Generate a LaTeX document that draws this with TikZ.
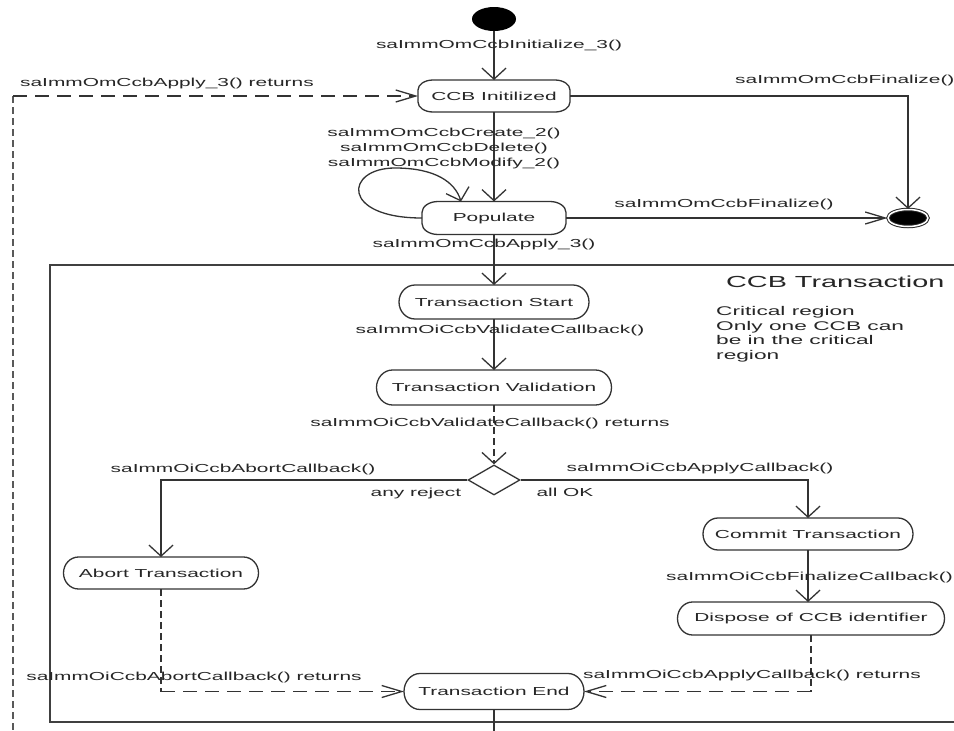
\documentclass[tikz,border=0pt]{standalone}
\usepackage{fontspec}
\setmainfont{Liberation Sans}[FakeStretch=1.8]
\usetikzlibrary{arrows.meta,shapes.geometric}

\newcommand\stlabelfont{\fontsize{11.6}{15}\selectfont}
\newcommand\ststatefont{\fontsize{11.6}{14}\selectfont}
\newcommand\stnotefont{\fontsize{12.6}{14.5}\selectfont}
\newcommand\sttitlefont{\fontsize{16}{19}\selectfont}

% outline of a state: rounded box with elliptical corners (x radius #2, y radius #3)
\newcommand\stateoutline[3]{%
  \draw[stateline] ([xshift=#2]#1.north west) -- ([xshift=-#2]#1.north east)
    arc[start angle=90,end angle=0,x radius=#2,y radius=#3]
    -- ([yshift=#3]#1.south east)
    arc[start angle=0,end angle=-90,x radius=#2,y radius=#3]
    -- ([xshift=#2]#1.south west)
    arc[start angle=270,end angle=180,x radius=#2,y radius=#3]
    -- ([yshift=-#3]#1.north west)
    arc[start angle=180,end angle=90,x radius=#2,y radius=#3] -- cycle;}

\tikzset{
  conn/.style={line width=1.3pt, draw=black!80},
  varr/.style={-{Straight Barb[length=11pt,width=24pt]}},
  harr/.style={-{Straight Barb[length=20pt,width=12pt]}},
  hdash/.style={dash pattern=on 14pt off 8pt},
  vdash/.style={dash pattern=on 7pt off 4pt},
  stbox/.style={rectangle, inner sep=0pt, outer sep=0pt, font=\ststatefont, text=black!85},
  stateline/.style={line width=1.3pt, draw=black!80},
  lbl/.style={inner sep=0pt, font=\stlabelfont, text=black!85},
  regionline/.style={line width=1.8pt, draw=black!75},
}

\begin{document}
\begin{tikzpicture}[x=1pt,y=-1pt]
\useasboundingbox (0,0) rectangle (954,731);
\clip (0,0) rectangle (954,731);
\fill[white] (0,0) rectangle (954,731);

% transaction region
\draw[regionline] (50,265) rectangle (980,722);
\node[anchor=west, inner sep=0pt, font=\sttitlefont, text=black!85] (title) at (726,282) {CCB Transaction};
\node[anchor=west, inner sep=0pt, font=\stnotefont, text=black!85, align=left] (note) at (716,334)
  {Critical region\\Only one CCB can\\be in the critical\\region};

% states
\node[ellipse, fill=black, minimum width=44pt, minimum height=24pt, inner sep=0pt] (start) at (494,19) {};
\node[stbox, minimum width=152pt, minimum height=32pt] (init) at (494,96) {CCB Initilized};
\stateoutline{init}{15pt}{10pt}
\node[stbox, minimum width=144pt, minimum height=33pt] (pop) at (494,218) {Populate};
\stateoutline{pop}{16pt}{11pt}
\node[ellipse, fill=black, draw=black!85, double=white, double distance=1.5pt, line width=1pt,
      minimum width=40pt, minimum height=17pt, inner sep=0pt] (fin) at (908,218) {};

\node[stbox, minimum width=190pt, minimum height=34pt] (ts) at (494,302) {Transaction Start};
\stateoutline{ts}{16pt}{17pt}
\node[stbox, minimum width=235pt, minimum height=35pt] (tv) at (494,387.5) {Transaction Validation};
\stateoutline{tv}{16pt}{17.5pt}
\node[diamond, draw=black!80, line width=1.3pt, minimum width=52pt, minimum height=30pt, inner sep=0pt] (dec) at (494,480) {};
\node[stbox, minimum width=195pt, minimum height=32pt] (ab) at (161,573) {Abort Transaction};
\stateoutline{ab}{15pt}{16pt}
\node[stbox, minimum width=210pt, minimum height=32pt] (cm) at (808,534) {Commit Transaction};
\stateoutline{cm}{15pt}{16pt}
\node[stbox, minimum width=267pt, minimum height=33pt] (dp) at (811,618.5) {Dispose of CCB identifier};
\stateoutline{dp}{15pt}{16.5pt}
\node[stbox, minimum width=180pt, minimum height=36pt] (te) at (494,691.5) {Transaction End};
\stateoutline{te}{16pt}{18pt}

% connectors
\draw[conn,varr] (start) -- (init);
\draw[conn,varr] (init) -- (pop);
\draw[conn,varr] (init.east) -| (fin.north);
\draw[conn,harr] (pop.east) -- (fin.west);
\draw[conn,varr] (pop.west) .. controls (340,218) and (345,168) .. (395,168)
  .. controls (435,168) and (455,182) .. ([xshift=-33pt]pop.north);

\coordinate (fbtop) at (13,96);
\coordinate (fbbot) at (13,740);
\draw[conn, line width=2.4pt, draw=black!65, vdash] (fbtop) -- (fbbot);
\draw[conn,hdash,harr] (fbtop) -- (init.west);

\draw[conn,varr] (pop) -- (ts);
\draw[conn,varr] (ts) -- (tv);
\draw[conn,vdash,varr] (tv) -- (dec);
\draw[conn,varr] (dec.west) -| (ab.north);
\draw[conn,varr] (dec.east) -| (cm.north);
\draw[conn,varr] (cm.south) -- (cm.south |- dp.north);

\coordinate (dpc) at (dp.south |- te.east);
\draw[conn,vdash] (dp.south) -- (dpc);
\draw[conn,hdash,harr] (dpc) -- (te.east);
\coordinate (abc) at (ab.south |- te.west);
\draw[conn,vdash] (ab.south) -- (abc);
\draw[conn,hdash,harr] (abc) -- (te.west);
\coordinate (tail) at (494,745);
\draw[conn] (te.south) -- (tail);

% labels
\node[lbl] (lInit) at (499,45) {saImmOmCcbInitialize\_3()};
\node[lbl, anchor=west] (lApplyRet) at (20,83) {saImmOmCcbApply\_3() returns};
\node[lbl, anchor=west] (lFin1) at (735,80) {saImmOmCcbFinalize()};
\node[lbl] (lFin2) at (724,204) {saImmOmCcbFinalize()};
\node[lbl, align=center] (lLoop) at (444,148) {saImmOmCcbCreate\_2()\\saImmOmCcbDelete()\\saImmOmCcbModify\_2()};
\node[lbl] (lApply) at (484,244) {saImmOmCcbApply\_3()};
\node[lbl] (lVal) at (500,330) {saImmOiCcbValidateCallback()};
\node[lbl] (lValRet) at (490,423) {saImmOiCcbValidateCallback() returns};
\node[lbl] (lAbort) at (243,469) {saImmOiCcbAbortCallback()};
\node[lbl] (lReject) at (416,493) {any reject};
\node[lbl] (lApplyCb) at (700,468) {saImmOiCcbApplyCallback()};
\node[lbl] (lOK) at (565,492) {all OK};
\node[lbl, anchor=east] (lFinCb) at (953,577) {saImmOiCcbFinalizeCallback()};
\node[lbl] (lApplyRet2) at (752,675) {saImmOiCcbApplyCallback() returns};
\node[lbl] (lAbortRet) at (194,677) {saImmOiCcbAbortCallback() returns};
\end{tikzpicture}
\end{document}
